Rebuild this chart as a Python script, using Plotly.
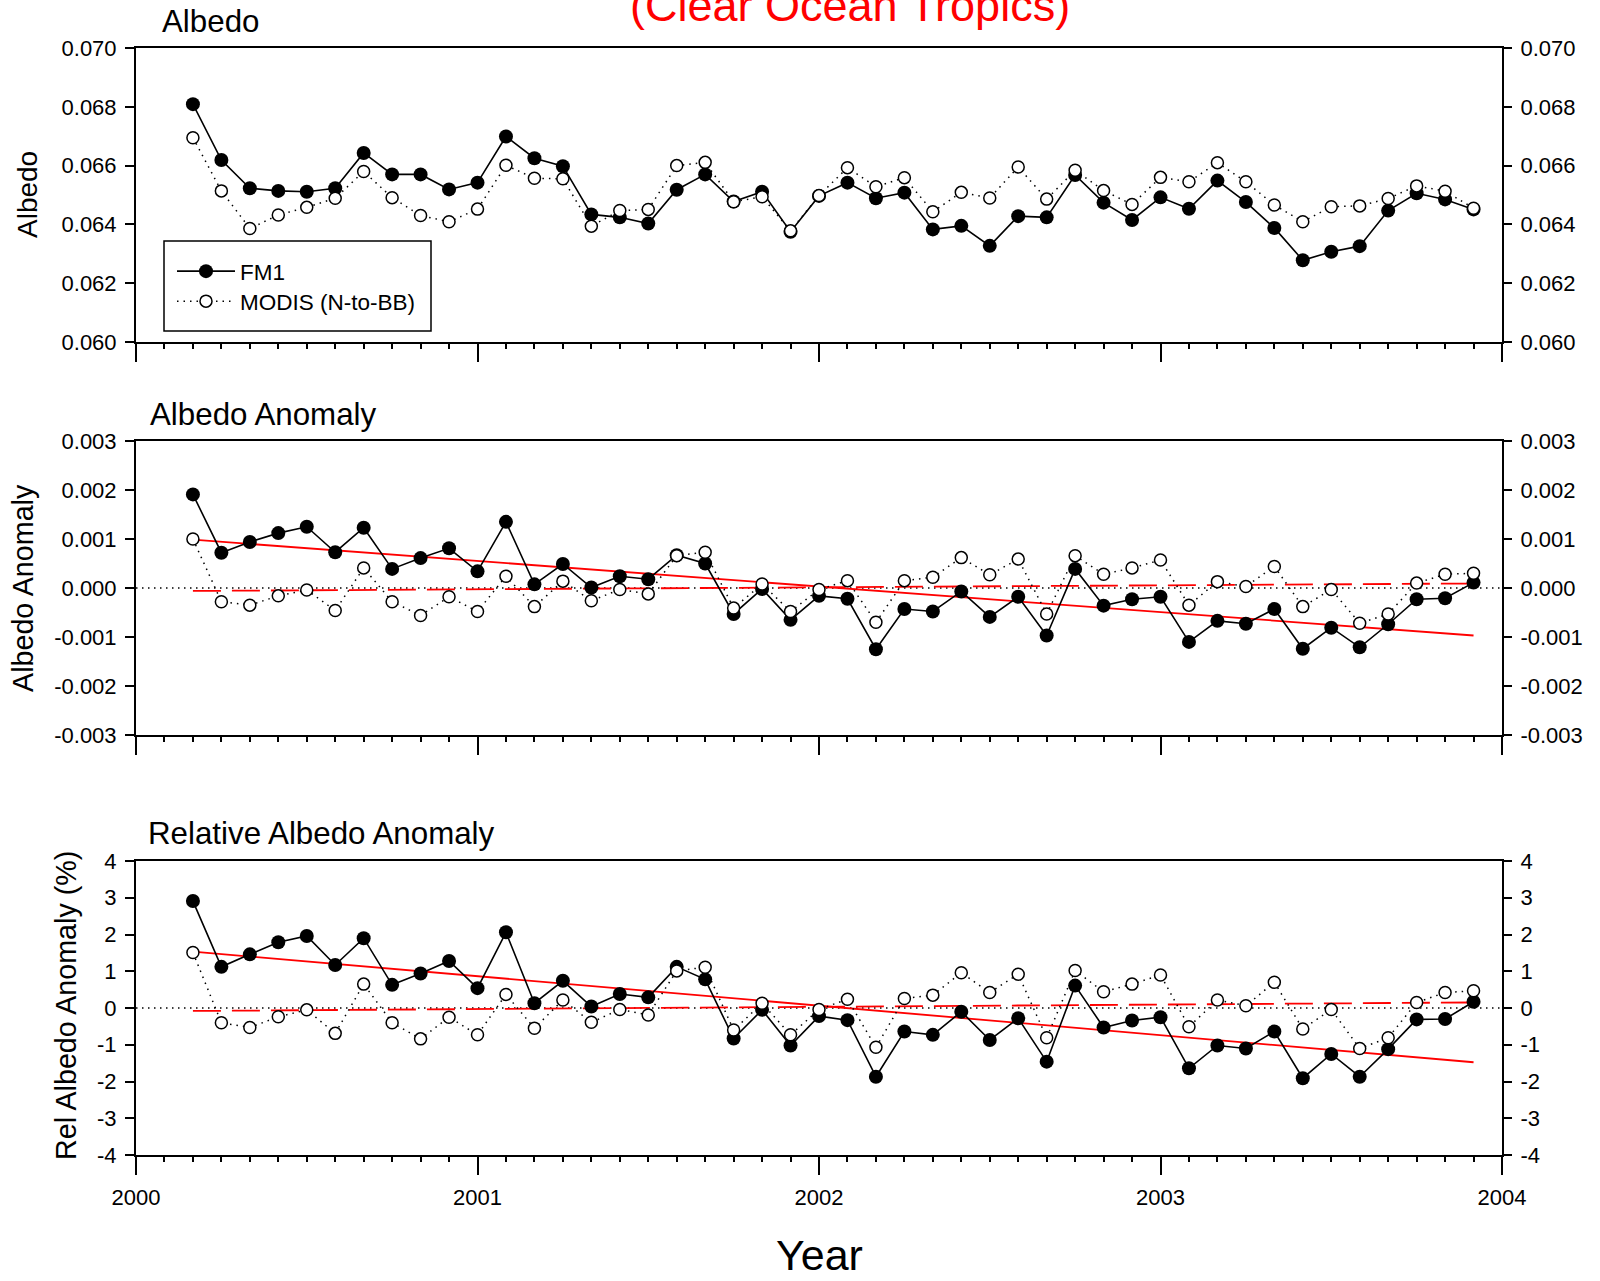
import numpy as np
import plotly.graph_objects as go

# ---- data -------------------------------------------------------------
# monthly samples, March 2000 .. December 2003 (months counted from Jan 2000)
month_index = list(range(2, 48))
years = [2000 + m / 12 for m in month_index]

fm1_albedo = [0.06809, 0.06619, 0.06523, 0.06514, 0.06511, 0.06523, 0.06643, 0.06570, 0.06570, 0.06519,
              0.06542, 0.06699, 0.06625, 0.06598, 0.06434, 0.06424, 0.06403, 0.06518, 0.06570, 0.06478,
              0.06511, 0.06375, 0.06497, 0.06542, 0.06489, 0.06508, 0.06383, 0.06395, 0.06327, 0.06428,
              0.06424, 0.06568, 0.06474, 0.06415, 0.06492, 0.06453, 0.06549, 0.06476, 0.06388, 0.06278,
              0.06307, 0.06326, 0.06447, 0.06506, 0.06485, 0.06451]
modis_albedo = [0.06695, 0.06514, 0.06386, 0.06432, 0.06458, 0.06489, 0.06580, 0.06491, 0.06430, 0.06409,
                0.06452, 0.06601, 0.06557, 0.06555, 0.06394, 0.06447, 0.06451, 0.06600, 0.06611, 0.06477,
                0.06494, 0.06378, 0.06498, 0.06593, 0.06528, 0.06559, 0.06443, 0.06509, 0.06490, 0.06595,
                0.06486, 0.06584, 0.06515, 0.06468, 0.06560, 0.06545, 0.06610, 0.06545, 0.06466, 0.06409,
                0.06460, 0.06463, 0.06488, 0.06531, 0.06513, 0.06455]

fm1_anom = [0.00191, 0.00072, 0.00094, 0.00112, 0.00125, 0.00073, 0.00123, 0.00039, 0.00061, 0.00081,
            0.00034, 0.00135, 0.000075, 0.00049, 0.00001, 0.00024, 0.00018, 0.00067, 0.00050, -0.00053,
            -0.00002, -0.00065, -0.00016, -0.00022, -0.00125, -0.00043, -0.00048, -0.00007, -0.00059, -0.00018,
            -0.00097, 0.00039, -0.00036, -0.00023, -0.00018, -0.00110, -0.00067, -0.00073, -0.00043, -0.00124,
            -0.00081, -0.00121, -0.00074, -0.00023, -0.00021, 0.00011]
modis_anom = [0.00100, -0.00028, -0.00035, -0.00016, -0.00004, -0.00046, 0.00041, -0.00028, -0.00056, -0.00018,
              -0.00048, 0.00024, -0.00038, 0.00014, -0.00026, -0.00003, -0.00012, 0.00066, 0.00073, -0.00041,
              0.00008, -0.00048, -0.00003, 0.00015, -0.00070, 0.00015, 0.00022, 0.00062, 0.00027, 0.00059,
              -0.00053, 0.00066, 0.00028, 0.00041, 0.00057, -0.00035, 0.00013, 0.00003, 0.00044, -0.00038,
              -0.00003, -0.00072, -0.00053, 0.00010, 0.00028, 0.00030]

fm1_rel = [2.91, 1.12, 1.46, 1.79, 1.96, 1.17, 1.90, 0.63, 0.94, 1.28,
           0.54, 2.06, 0.13, 0.74, 0.04, 0.38, 0.29, 1.12, 0.78, -0.83,
           -0.05, -1.02, -0.22, -0.33, -1.87, -0.64, -0.73, -0.10, -0.87, -0.28,
           -1.46, 0.61, -0.53, -0.34, -0.25, -1.64, -1.02, -1.10, -0.64, -1.91,
           -1.25, -1.87, -1.12, -0.31, -0.30, 0.17]
modis_rel = [1.51, -0.40, -0.53, -0.24, -0.05, -0.69, 0.65, -0.40, -0.84, -0.25,
             -0.73, 0.37, -0.55, 0.22, -0.39, -0.04, -0.19, 1.01, 1.11, -0.60,
             0.13, -0.73, -0.04, 0.24, -1.07, 0.26, 0.35, 0.96, 0.42, 0.92,
             -0.81, 1.02, 0.44, 0.65, 0.90, -0.51, 0.22, 0.06, 0.70, -0.57,
             -0.04, -1.10, -0.81, 0.15, 0.42, 0.47]

year_ticks = [2000, 2001, 2002, 2003, 2004]
year_labels = ["2000", "2001", "2002", "2003", "2004"]
albedo_ticks = [0.060, 0.062, 0.064, 0.066, 0.068, 0.070]
albedo_labels = ["0.060", "0.062", "0.064", "0.066", "0.068", "0.070"]
anom_ticks = [-0.003, -0.002, -0.001, 0.0, 0.001, 0.002, 0.003]
anom_labels = ["-0.003", "-0.002", "-0.001", "0.000", "0.001", "0.002", "0.003"]
rel_ticks = [-4, -3, -2, -1, 0, 1, 2, 3, 4]
rel_labels = ["-4", "-3", "-2", "-1", "0", "1", "2", "3", "4"]

# ---- geometry (pixels on a 1600 x 1281 page) -------------------------
W, H = 1600, 1281
FONT = "Arial, 'Liberation Sans', sans-serif"


def px_x(x):
    return x / W


def px_y(y):
    return 1 - y / H


x_dom = [px_x(136), px_x(1502)]
panels = [  # (top, bottom) in pixels
    (48, 342),
    (441, 735),
    (861, 1155),
]

fig = go.Figure()


def linfit(xs, ys):
    k, b = np.polyfit(xs, ys, 1)
    return [xs[0], xs[-1]], [k * xs[0] + b, k * xs[-1] + b]


series = [
    (fm1_albedo, modis_albedo, False),
    (fm1_anom, modis_anom, True),
    (fm1_rel, modis_rel, True),
]

for i, (fm1, modis, with_trend) in enumerate(series, start=1):
    xa = "x" if i == 1 else f"x{i}"
    ya = "y" if i == 1 else f"y{i}"
    if with_trend:
        tx, ty = linfit(years, fm1)
        fig.add_trace(go.Scatter(x=tx, y=ty, mode="lines", xaxis=xa, yaxis=ya,
                                 line=dict(color="#ff0000", width=1.8),
                                 showlegend=False, hoverinfo="skip"))
        tx, ty = linfit(years, modis)
        fig.add_trace(go.Scatter(x=tx, y=ty, mode="lines", xaxis=xa, yaxis=ya,
                                 line=dict(color="#ff0000", width=1.8, dash="28px,11px"),
                                 showlegend=False, hoverinfo="skip"))
    fig.add_trace(go.Scatter(
        x=years, y=fm1, mode="lines+markers", name="FM1", xaxis=xa, yaxis=ya,
        line=dict(color="black", width=1.6),
        marker=dict(symbol="circle", size=14, color="black"),
        showlegend=(i == 1), legend="legend"))
    fig.add_trace(go.Scatter(
        x=years, y=modis, mode="lines+markers", name="MODIS (N-to-BB)", xaxis=xa, yaxis=ya,
        line=dict(color="black", width=1.5, dash="1.5px,5px"),
        marker=dict(symbol="circle", size=12, color="white", line=dict(color="black", width=1.5)),
        showlegend=(i == 1), legend="legend2"))
    # placeholder so the right-hand mirror axis is drawn
    fig.add_trace(go.Scatter(x=[years[0]], y=[None], xaxis=xa, yaxis=f"y{i + 3}",
                             mode="markers", showlegend=False, hoverinfo="skip"))

TICK_FONT = dict(family=FONT, size=22, color="black")
axis_common = dict(showgrid=False, zeroline=False, color="black", automargin=False,
                   tickfont=TICK_FONT)

yranges = [(0.060, 0.070), (-0.003, 0.003), (-4, 4)]
yticks = [(albedo_ticks, albedo_labels), (anom_ticks, anom_labels), (rel_ticks, rel_labels)]

legend_style = dict(xanchor="left", yanchor="top", bgcolor="rgba(0,0,0,0)", borderwidth=0,
                    font=dict(family=FONT, size=22.5, color="black"), itemwidth=58)

layout = dict(
    template="none",
    width=W, height=H,
    margin=dict(l=0, r=0, t=0, b=0, pad=0, autoexpand=False),
    paper_bgcolor="white", plot_bgcolor="white",
    font=dict(family=FONT, color="black"),
    showlegend=True,
    legend=dict(legend_style, x=px_x(172), y=px_y(250)),
    legend2=dict(legend_style, x=px_x(172), y=px_y(280)),
)

for i in range(1, 4):
    top, bottom = panels[i - 1]
    ydom = [px_y(bottom), px_y(top)]
    xkey = "xaxis" if i == 1 else f"xaxis{i}"
    ykey = "yaxis" if i == 1 else f"yaxis{i}"
    ya = "y" if i == 1 else f"y{i}"
    xa = "x" if i == 1 else f"x{i}"
    layout[xkey] = dict(
        axis_common, domain=x_dom, anchor=ya, range=[2000, 2004],
        tickmode="array", tickvals=year_ticks, ticktext=year_labels,
        ticks="outside", ticklen=18, tickwidth=1.5, tickcolor="black",
        minor=dict(dtick=1 / 12, tick0=2000, ticks="outside", ticklen=5,
                   tickwidth=1.5, tickcolor="black", showgrid=False),
        showline=True, linewidth=2, linecolor="black", mirror=True,
        showticklabels=(i == 3), ticklabelstandoff=4,
    )
    ticks, labels = yticks[i - 1]
    layout[ykey] = dict(
        axis_common, domain=ydom, anchor=xa, range=list(yranges[i - 1]),
        tickmode="array", tickvals=ticks, ticktext=labels,
        ticks="outside", ticklen=9, tickwidth=1.5, tickcolor="black",
        showline=True, linewidth=2, linecolor="black", mirror=True,
        ticklabelstandoff=4,
    )
    layout[f"yaxis{i + 3}"] = dict(
        axis_common, overlaying=ya, anchor=xa, side="right", range=list(yranges[i - 1]),
        tickmode="array", tickvals=ticks, ticktext=labels,
        ticks="outside", ticklen=9, tickwidth=1.5, tickcolor="black",
        showline=False, ticklabelstandoff=4,
    )

fig.update_layout(**layout)

# dotted zero reference lines on the anomaly panels
for i in (2, 3):
    fig.add_shape(type="line", xref=f"x{i} domain", yref=f"y{i}", x0=0, x1=1, y0=0, y1=0,
                  line=dict(color="black", width=1.5, dash="1.5px,4.5px"), layer="below")

# legend frame
fig.add_shape(type="rect", xref="paper", yref="paper",
              x0=px_x(164), x1=px_x(431), y0=px_y(331), y1=px_y(241),
              line=dict(color="black", width=1.5), fillcolor="rgba(0,0,0,0)")

annotations = [
    dict(text="(Clear Ocean Tropics)", x=px_x(850), y=px_y(5), font=dict(size=45, color="#ff0000"),
         xanchor="center", yanchor="middle"),
    dict(text="Albedo", x=px_x(160), y=px_y(21), font=dict(size=31.3), xanchor="left", yanchor="middle"),
    dict(text="Albedo Anomaly", x=px_x(148), y=px_y(414), font=dict(size=31.3),
         xanchor="left", yanchor="middle"),
    dict(text="Relative Albedo Anomaly", x=px_x(146), y=px_y(834), font=dict(size=31.3),
         xanchor="left", yanchor="middle"),
    dict(text="Albedo", x=px_x(28), y=px_y(195), font=dict(size=28), textangle=-90,
         xanchor="center", yanchor="middle"),
    dict(text="Albedo Anomaly", x=px_x(23), y=px_y(588), font=dict(size=28.7), textangle=-90,
         xanchor="center", yanchor="middle"),
    dict(text="Rel Albedo Anomaly (%)", x=px_x(66), y=px_y(1006), font=dict(size=28.7), textangle=-90,
         xanchor="center", yanchor="middle"),
    dict(text="Year", x=px_x(820), y=0, font=dict(size=43), xanchor="center", yanchor="bottom"),
]
for a in annotations:
    a.update(xref="paper", yref="paper", showarrow=False)
    a["font"] = dict(family=FONT, color=a["font"].get("color", "black"), size=a["font"]["size"])
fig.update_layout(annotations=annotations)

fig.write_html("out.html")
